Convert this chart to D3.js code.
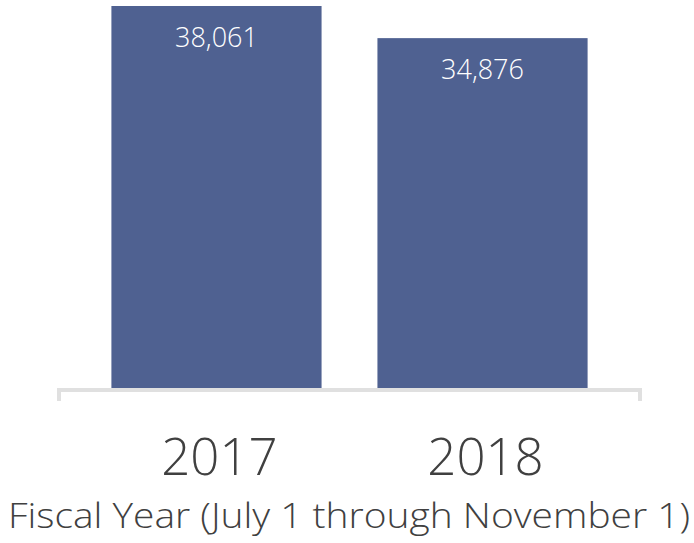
<!DOCTYPE html>
<html>
<head>
<meta charset="utf-8">
<script src="https://cdn.jsdelivr.net/npm/d3@7"></script>
<style>
  html, body { margin: 0; padding: 0; background: #fff; }
  svg { display: block; }
  text { font-family: "Open Sans", "Lato", sans-serif; }
</style>
</head>
<body>
<svg id="chart" width="694" height="543"></svg>
<script>
const categories = ["2017", "2018"];
const values = [38061, 34876];
const axisTitle = "Fiscal Year (July 1 through November 1)";

const svg = d3.select("#chart");
const W = 694, H = 543;
const baseline = 390;

const x = d3.scaleBand()
  .domain(categories)
  .range([59, 640])
  .paddingInner(0.21)
  .paddingOuter(0.197);

const y = d3.scaleLinear()
  .domain([0, d3.max(values)])
  .range([baseline, 6]);

const data = categories.map((c, i) => ({ cat: c, val: values[i] }));

svg.selectAll("rect.bar")
  .data(data)
  .join("rect")
  .attr("class", "bar")
  .attr("x", d => x(d.cat))
  .attr("width", x.bandwidth())
  .attr("y", d => y(d.val))
  .attr("height", d => y(0) - y(d.val))
  .attr("fill", "#4f6191");

// axis line with end ticks
const axis = d3.axisBottom(x).tickSize(0).tickFormat("");
const gAxis = svg.append("g").attr("transform", `translate(0,${baseline})`).call(axis);
gAxis.select(".domain").remove();
const [r0, r1] = x.range();
svg.append("path")
  .attr("d", `M${r0},${baseline + 11}V${baseline}H${r1}V${baseline + 11}`)
  .attr("fill", "none")
  .attr("stroke", "#e0e0e0")
  .attr("stroke-width", 4);

// category labels
svg.selectAll("text.cat")
  .data(data)
  .join("text")
  .attr("class", "cat")
  .attr("x", d => x(d.cat) + x.bandwidth() / 2 + 3)
  .attr("y", 475)
  .attr("text-anchor", "middle")
  .attr("fill", "#404040")
  .style("font-size", "51px")
  .style("font-weight", 300)
  .text(d => d.cat);

// value labels
const fmt = d3.format(",");
svg.selectAll("text.val")
  .data(data)
  .join("text")
  .attr("class", "val")
  .attr("x", d => x(d.cat) + x.bandwidth() / 2)
  .attr("y", d => y(d.val) + 41)
  .attr("text-anchor", "middle")
  .attr("fill", "#ffffff")
  .style("font-size", "27px")
  .style("font-weight", 300)
  .text(d => fmt(d.val));

// axis title
svg.append("text")
  .attr("x", 349)
  .attr("y", 528)
  .attr("text-anchor", "middle")
  .attr("fill", "#404040")
  .attr("textLength", 682)
  .attr("lengthAdjust", "spacingAndGlyphs")
  .style("font-size", "35px")
  .style("font-weight", 300)
  .text(axisTitle);
</script>
</body>
</html>
